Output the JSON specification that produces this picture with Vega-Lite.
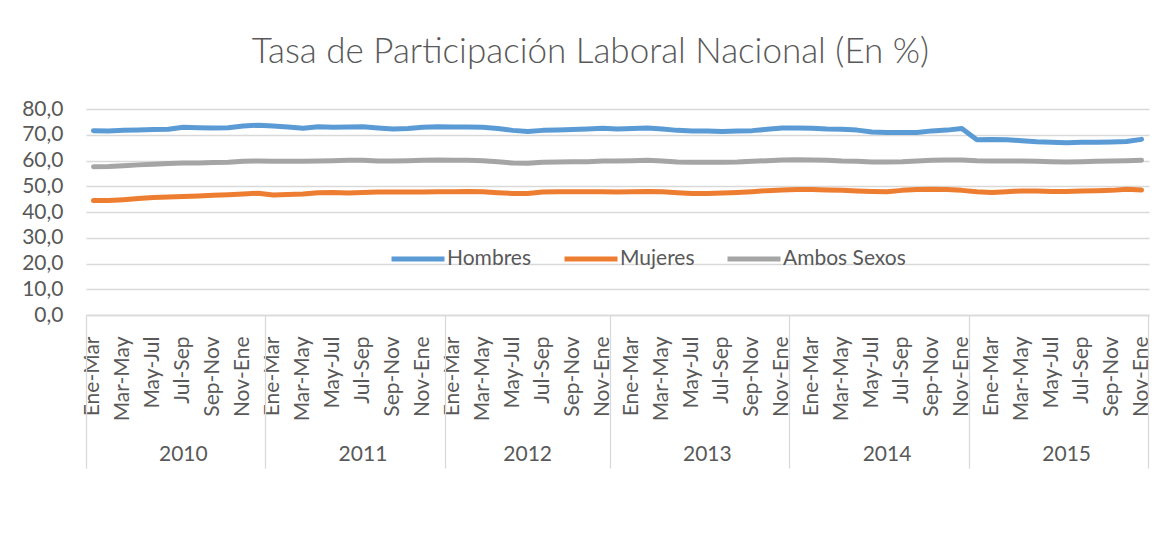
{
  "$schema": "https://vega.github.io/schema/vega-lite/v6.json",
  "width": 1063,
  "height": 206,
  "autosize": {"type": "none"},
  "padding": {"left": 86, "top": 109, "right": 20, "bottom": 221},
  "background": "white",
  "title": {"text": "Tasa de Participación Laboral Nacional (En %)", "font": "Lato", "fontSize": 35, "fontWeight": 300, "color": "#595959", "anchor": "middle", "dx": -27, "offset": 0, "baseline": "alphabetic"},
  "config": {
    "view": {"stroke": null},
    "font": "Lato",
    "axis": {"labelFont": "Lato", "labelColor": "#595959", "labelFontSize": 21, "title": null},
    "legend": {"orient": "none", "legendX": 303, "legendY": 121, "direction": "horizontal", "title": null, "symbolType": "stroke", "symbolSize": 2809, "symbolStrokeWidth": 5, "labelFontSize": 21, "labelColor": "#595959", "labelFont": "Lato", "columnPadding": 22, "labelOffset": 0, "padding": 0}
  },
  "data": {"values": [
    {"key": "2010-01 Ene-Mar", "Hombres": 71.6, "Mujeres": 44.5, "Ambos Sexos": 57.6},
    {"key": "2010-02 Feb-Abr", "Hombres": 71.5, "Mujeres": 44.5, "Ambos Sexos": 57.7},
    {"key": "2010-03 Mar-May", "Hombres": 71.7, "Mujeres": 44.8, "Ambos Sexos": 58.0},
    {"key": "2010-04 Abr-Jun", "Hombres": 71.8, "Mujeres": 45.2, "Ambos Sexos": 58.3},
    {"key": "2010-05 May-Jul", "Hombres": 72.0, "Mujeres": 45.6, "Ambos Sexos": 58.5},
    {"key": "2010-06 Jun-Ago", "Hombres": 72.1, "Mujeres": 45.8, "Ambos Sexos": 58.8},
    {"key": "2010-07 Jul-Sep", "Hombres": 72.9, "Mujeres": 46.0, "Ambos Sexos": 59.0},
    {"key": "2010-08 Ago-Oct", "Hombres": 72.7, "Mujeres": 46.2, "Ambos Sexos": 59.0},
    {"key": "2010-09 Sep-Nov", "Hombres": 72.6, "Mujeres": 46.5, "Ambos Sexos": 59.2},
    {"key": "2010-10 Oct-Dic", "Hombres": 72.7, "Mujeres": 46.7, "Ambos Sexos": 59.3},
    {"key": "2010-11 Nov-Ene", "Hombres": 73.4, "Mujeres": 47.0, "Ambos Sexos": 59.7},
    {"key": "2010-12 Dic-Feb", "Hombres": 73.7, "Mujeres": 47.3, "Ambos Sexos": 59.8},
    {"key": "2011-01 Ene-Mar", "Hombres": 73.4, "Mujeres": 46.6, "Ambos Sexos": 59.7},
    {"key": "2011-02 Feb-Abr", "Hombres": 73.0, "Mujeres": 46.8, "Ambos Sexos": 59.7},
    {"key": "2011-03 Mar-May", "Hombres": 72.5, "Mujeres": 47.0, "Ambos Sexos": 59.7},
    {"key": "2011-04 Abr-Jun", "Hombres": 73.1, "Mujeres": 47.5, "Ambos Sexos": 59.8},
    {"key": "2011-05 May-Jul", "Hombres": 72.9, "Mujeres": 47.6, "Ambos Sexos": 59.9},
    {"key": "2011-06 Jun-Ago", "Hombres": 73.0, "Mujeres": 47.4, "Ambos Sexos": 60.1},
    {"key": "2011-07 Jul-Sep", "Hombres": 73.1, "Mujeres": 47.6, "Ambos Sexos": 60.1},
    {"key": "2011-08 Ago-Oct", "Hombres": 72.6, "Mujeres": 47.8, "Ambos Sexos": 59.8},
    {"key": "2011-09 Sep-Nov", "Hombres": 72.2, "Mujeres": 47.8, "Ambos Sexos": 59.8},
    {"key": "2011-10 Oct-Dic", "Hombres": 72.4, "Mujeres": 47.8, "Ambos Sexos": 59.9},
    {"key": "2011-11 Nov-Ene", "Hombres": 72.9, "Mujeres": 47.8, "Ambos Sexos": 60.1},
    {"key": "2011-12 Dic-Feb", "Hombres": 73.1, "Mujeres": 47.9, "Ambos Sexos": 60.2},
    {"key": "2012-01 Ene-Mar", "Hombres": 73.0, "Mujeres": 47.9, "Ambos Sexos": 60.1},
    {"key": "2012-02 Feb-Abr", "Hombres": 73.0, "Mujeres": 48.0, "Ambos Sexos": 60.1},
    {"key": "2012-03 Mar-May", "Hombres": 72.9, "Mujeres": 47.9, "Ambos Sexos": 59.9},
    {"key": "2012-04 Abr-Jun", "Hombres": 72.4, "Mujeres": 47.5, "Ambos Sexos": 59.5},
    {"key": "2012-05 May-Jul", "Hombres": 71.7, "Mujeres": 47.2, "Ambos Sexos": 59.0},
    {"key": "2012-06 Jun-Ago", "Hombres": 71.3, "Mujeres": 47.2, "Ambos Sexos": 58.9},
    {"key": "2012-07 Jul-Sep", "Hombres": 71.7, "Mujeres": 47.8, "Ambos Sexos": 59.3},
    {"key": "2012-08 Ago-Oct", "Hombres": 71.8, "Mujeres": 47.9, "Ambos Sexos": 59.4},
    {"key": "2012-09 Sep-Nov", "Hombres": 72.0, "Mujeres": 47.9, "Ambos Sexos": 59.5},
    {"key": "2012-10 Oct-Dic", "Hombres": 72.2, "Mujeres": 47.9, "Ambos Sexos": 59.5},
    {"key": "2012-11 Nov-Ene", "Hombres": 72.5, "Mujeres": 47.9, "Ambos Sexos": 59.8},
    {"key": "2013-00 Dic-Feb", "Hombres": 72.2, "Mujeres": 47.8, "Ambos Sexos": 59.8},
    {"key": "2013-01 Ene-Mar", "Hombres": 72.4, "Mujeres": 47.9, "Ambos Sexos": 59.9},
    {"key": "2013-02 Feb-Abr", "Hombres": 72.6, "Mujeres": 48.0, "Ambos Sexos": 60.1},
    {"key": "2013-03 Mar-May", "Hombres": 72.2, "Mujeres": 47.9, "Ambos Sexos": 59.8},
    {"key": "2013-04 Abr-Jun", "Hombres": 71.7, "Mujeres": 47.5, "Ambos Sexos": 59.4},
    {"key": "2013-05 May-Jul", "Hombres": 71.5, "Mujeres": 47.2, "Ambos Sexos": 59.3},
    {"key": "2013-06 Jun-Ago", "Hombres": 71.5, "Mujeres": 47.2, "Ambos Sexos": 59.3},
    {"key": "2013-07 Jul-Sep", "Hombres": 71.3, "Mujeres": 47.4, "Ambos Sexos": 59.3},
    {"key": "2013-08 Ago-Oct", "Hombres": 71.5, "Mujeres": 47.6, "Ambos Sexos": 59.4},
    {"key": "2013-09 Sep-Nov", "Hombres": 71.6, "Mujeres": 47.9, "Ambos Sexos": 59.7},
    {"key": "2013-10 Oct-Dic", "Hombres": 72.1, "Mujeres": 48.3, "Ambos Sexos": 59.9},
    {"key": "2013-11 Nov-Ene", "Hombres": 72.6, "Mujeres": 48.5, "Ambos Sexos": 60.2},
    {"key": "2014-00 Dic-Feb", "Hombres": 72.6, "Mujeres": 48.7, "Ambos Sexos": 60.3},
    {"key": "2014-01 Ene-Mar", "Hombres": 72.5, "Mujeres": 48.7, "Ambos Sexos": 60.2},
    {"key": "2014-02 Feb-Abr", "Hombres": 72.2, "Mujeres": 48.5, "Ambos Sexos": 60.1},
    {"key": "2014-03 Mar-May", "Hombres": 72.1, "Mujeres": 48.4, "Ambos Sexos": 59.8},
    {"key": "2014-04 Abr-Jun", "Hombres": 71.8, "Mujeres": 48.2, "Ambos Sexos": 59.7},
    {"key": "2014-05 May-Jul", "Hombres": 71.1, "Mujeres": 48.0, "Ambos Sexos": 59.4},
    {"key": "2014-06 Jun-Ago", "Hombres": 70.9, "Mujeres": 47.9, "Ambos Sexos": 59.4},
    {"key": "2014-07 Jul-Sep", "Hombres": 70.9, "Mujeres": 48.4, "Ambos Sexos": 59.5},
    {"key": "2014-08 Ago-Oct", "Hombres": 70.9, "Mujeres": 48.7, "Ambos Sexos": 59.8},
    {"key": "2014-09 Sep-Nov", "Hombres": 71.5, "Mujeres": 48.8, "Ambos Sexos": 60.1},
    {"key": "2014-10 Oct-Dic", "Hombres": 71.8, "Mujeres": 48.7, "Ambos Sexos": 60.2},
    {"key": "2014-11 Nov-Ene", "Hombres": 72.4, "Mujeres": 48.4, "Ambos Sexos": 60.2},
    {"key": "2015-00 Dic-Feb", "Hombres": 68.1, "Mujeres": 47.9, "Ambos Sexos": 59.9},
    {"key": "2015-01 Ene-Mar", "Hombres": 68.2, "Mujeres": 47.6, "Ambos Sexos": 59.8},
    {"key": "2015-02 Feb-Abr", "Hombres": 68.1, "Mujeres": 47.9, "Ambos Sexos": 59.8},
    {"key": "2015-03 Mar-May", "Hombres": 67.7, "Mujeres": 48.2, "Ambos Sexos": 59.8},
    {"key": "2015-04 Abr-Jun", "Hombres": 67.3, "Mujeres": 48.2, "Ambos Sexos": 59.7},
    {"key": "2015-05 May-Jul", "Hombres": 67.1, "Mujeres": 48.0, "Ambos Sexos": 59.5},
    {"key": "2015-06 Jun-Ago", "Hombres": 66.9, "Mujeres": 48.0, "Ambos Sexos": 59.4},
    {"key": "2015-07 Jul-Sep", "Hombres": 67.1, "Mujeres": 48.2, "Ambos Sexos": 59.5},
    {"key": "2015-08 Ago-Oct", "Hombres": 67.1, "Mujeres": 48.3, "Ambos Sexos": 59.7},
    {"key": "2015-09 Sep-Nov", "Hombres": 67.2, "Mujeres": 48.4, "Ambos Sexos": 59.8},
    {"key": "2015-10 Oct-Dic", "Hombres": 67.4, "Mujeres": 48.8, "Ambos Sexos": 59.9},
    {"key": "2015-11 Nov-Ene", "Hombres": 68.2, "Mujeres": 48.5, "Ambos Sexos": 60.1}
  ]},
  "layer": [
    {
      "transform": [{"fold": ["Hombres", "Mujeres", "Ambos Sexos"], "as": ["serie", "valor"]}],
      "mark": {"type": "line", "strokeWidth": 5, "strokeCap": "round", "strokeJoin": "round"},
      "encoding": {
        "x": {"field": "key", "type": "ordinal", "bandPosition": 0.5,
              "scale": {"type": "band", "paddingInner": 0, "paddingOuter": 0},
              "axis": {"orient": "bottom", "labelAngle": 270, "labelPadding": 21, "ticks": false, "domainColor": "#d9d9d9", "domainWidth": 1.3, "grid": false, "labelOverlap": false, "labelBound": false,
                       "labelExpr": "indexof(['Ene-Mar','Mar-May','May-Jul','Jul-Sep','Sep-Nov','Nov-Ene'], substring(datum.value, 8)) >= 0 ? substring(datum.value, 8) : ''"}},
        "y": {"field": "valor", "type": "quantitative", "scale": {"domain": [0, 80], "nice": false},
              "axis": {"values": [0, 10, 20, 30, 40, 50, 60, 70, 80], "labelExpr": "replace(format(datum.value, '.1f'), '.', ',')", "domain": false, "ticks": false, "labelPadding": 23, "gridColor": "#d9d9d9", "gridWidth": 1.3}},
        "color": {"field": "serie", "type": "nominal",
                  "scale": {"domain": ["Hombres", "Mujeres", "Ambos Sexos"], "range": ["#5B9BD5", "#ED7D31", "#A5A5A5"]}}
      }
    },
    {
      "mark": {"type": "point", "opacity": 0},
      "encoding": {
        "x": {"field": "key", "type": "ordinal",
              "axis": {"orient": "bottom", "labels": false, "domain": false, "grid": false, "ticks": true, "tickSize": 153, "tickColor": "#d9d9d9", "tickWidth": 1.3, "bandPosition": 0,
                       "values": ["2010-01 Ene-Mar", "2011-01 Ene-Mar", "2012-01 Ene-Mar", "2013-00 Dic-Feb", "2014-00 Dic-Feb", "2015-00 Dic-Feb"]}}
      }
    },
    {
      "mark": {"type": "point", "opacity": 0},
      "encoding": {
        "x": {"field": "key", "type": "ordinal",
              "axis": {"orient": "bottom", "labels": false, "domain": false, "grid": false, "ticks": true, "tickSize": 153, "tickColor": "#d9d9d9", "tickWidth": 1.3, "bandPosition": 1,
                       "values": ["2015-11 Nov-Ene"]}}
      }
    },
    {
      "mark": {"type": "point", "opacity": 0},
      "encoding": {
        "x": {"field": "key", "type": "ordinal",
              "axis": {"orient": "bottom", "domain": false, "grid": false, "ticks": false, "bandPosition": 0, "labelAngle": 0, "labelBaseline": "middle", "labelAlign": "center", "labelPadding": 139, "labelOverlap": false,
                       "values": ["2010-07 Jul-Sep", "2011-07 Jul-Sep", "2013-06 Jun-Ago", "2014-06 Jun-Ago", "2015-06 Jun-Ago"],
                       "labelExpr": "substring(datum.value, 0, 4)"}}
      }
    },
    {
      "mark": {"type": "point", "opacity": 0},
      "encoding": {
        "x": {"field": "key", "type": "ordinal",
              "axis": {"orient": "bottom", "domain": false, "grid": false, "ticks": false, "bandPosition": 0.5, "labelAngle": 0, "labelBaseline": "middle", "labelAlign": "center", "labelPadding": 139, "labelOverlap": false,
                       "values": ["2012-06 Jun-Ago"],
                       "labelExpr": "substring(datum.value, 0, 4)"}}
      }
    }
  ],
  "resolve": {"axis": {"x": "independent"}}
}
